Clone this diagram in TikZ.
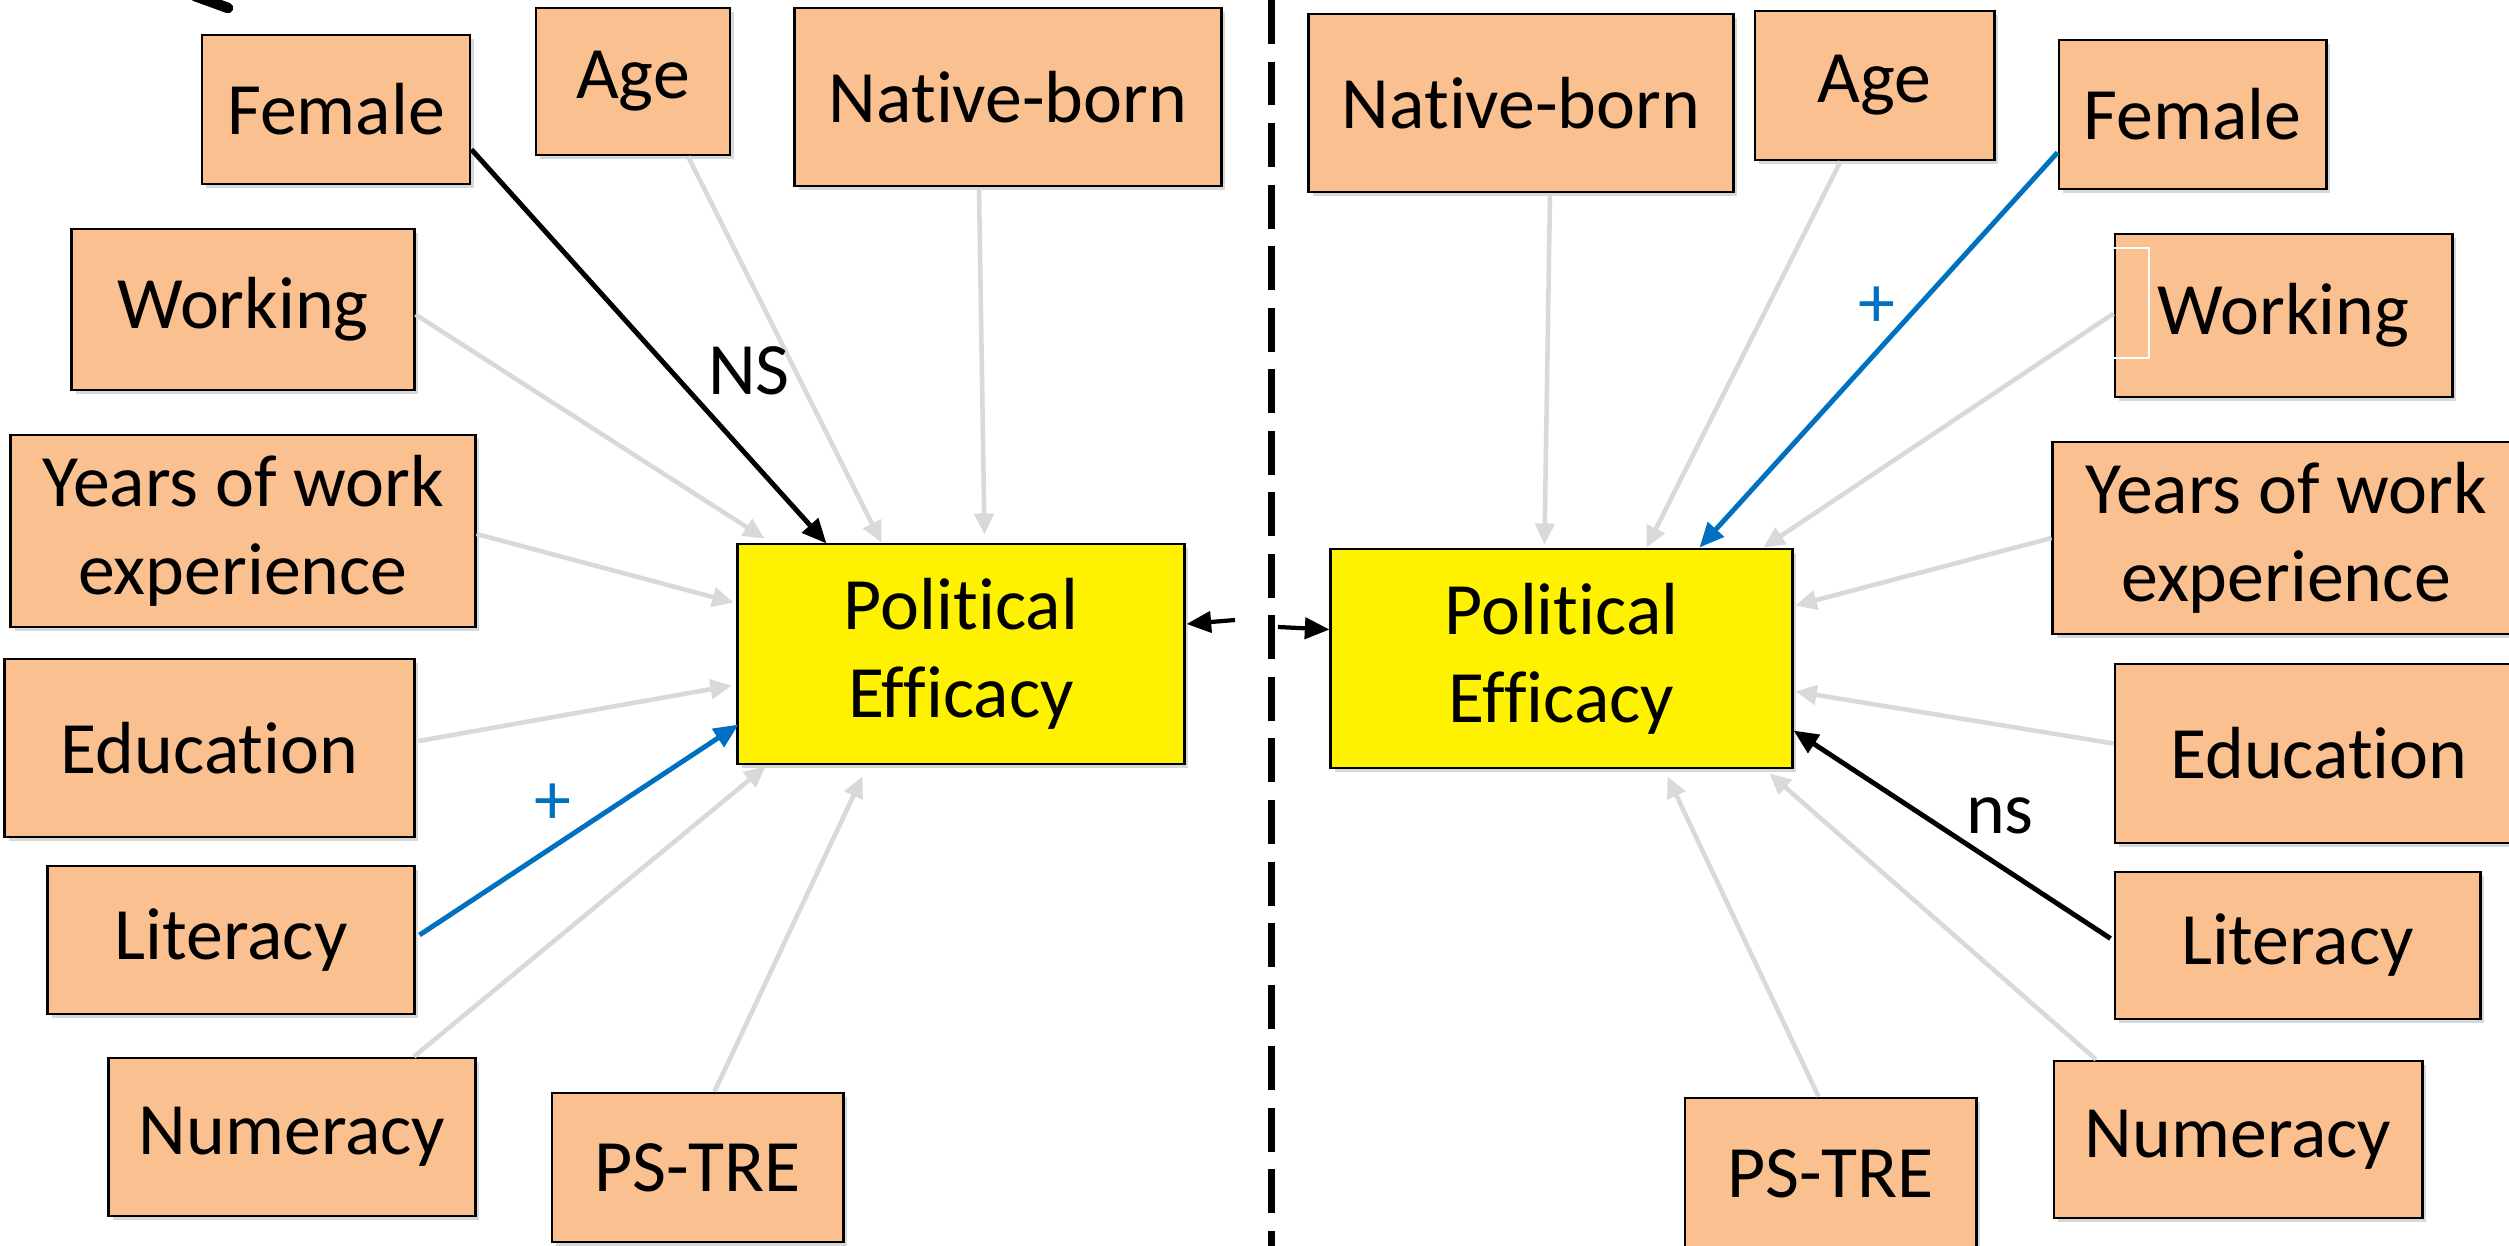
\documentclass[tikz,border=0pt]{standalone}
\usepackage{fontspec}
\setmainfont{Carlito}[Ligatures=NoCommon]
\usetikzlibrary{arrows.meta,calc,shadows}
\definecolor{boxorange}{HTML}{FAC090}
\definecolor{arrgray}{HTML}{D9D9D9}
\definecolor{posblue}{HTML}{0070C0}

\begin{document}
\begin{tikzpicture}[x=0.01cm,y=-0.01cm,
  varbox/.style={draw=black, line width=0.8pt, fill=boxorange, inner sep=0pt, align=center,
    font=\fontsize{21}{25}\selectfont,
    drop shadow={shadow xshift=1.2pt,shadow yshift=-1.2pt,opacity=0.3}},
  effbox/.style={varbox, fill=yellow},
  grayarr/.style={draw=arrgray, line width=1.3pt, -{Triangle[length=6pt,width=5.5pt]}},
  blackarr/.style={draw=black, line width=1.4pt, -{Triangle[length=7pt,width=6pt]}},
  bluearr/.style={draw=posblue, line width=1.4pt, -{Triangle[length=7pt,width=6pt]}},
  lbl/.style={font=\fontsize{21}{25}\selectfont}]
\useasboundingbox[fill=white] (0,0) rectangle (2509,1246);
%\draw[help lines] (0,0) grid[step=100] (2509,1246);
% LHS
\node[varbox, minimum width=2.68cm, minimum height=1.49cm] (femL) at (336,109.5) {Female};
\node[varbox, minimum width=1.94cm, minimum height=1.47cm] (ageL) at (633,81.5) {Age};
\node[varbox, minimum width=4.26cm, minimum height=1.78cm] (natL) at (1008,97) {Native-born};
\node[varbox, minimum width=3.42cm, minimum height=1.61cm] (wrkL) at (243,309.5) {Working};
\node[varbox, minimum width=4.64cm, minimum height=1.92cm] (yrsL) at (243,531) {Years of work\\experience};
\node[varbox, minimum width=4.09cm, minimum height=1.78cm] (eduL) at (209.5,748) {Education};
\node[varbox, minimum width=3.66cm, minimum height=1.48cm] (litL) at (231,940) {Literacy};
\node[varbox, minimum width=3.66cm, minimum height=1.58cm] (numL) at (292,1137) {Numeracy};
\node[varbox, minimum width=2.91cm, minimum height=1.49cm] (pstL) at (697.5,1167.5) {PS-TRE};
\node[effbox, minimum width=4.46cm, minimum height=2.20cm] (effL) at (961,654) {Political\\Efficacy};
% RHS
\node[varbox, minimum width=4.24cm, minimum height=1.78cm] (natR) at (1521,103) {Native-born};
\node[varbox, minimum width=2.39cm, minimum height=1.49cm] (ageR) at (1874.5,85.5) {Age};
\node[varbox, minimum width=2.67cm, minimum height=1.49cm] (femR) at (2192.5,114.5) {Female};
\node[varbox, minimum width=3.37cm, minimum height=1.63cm] (wrkR) at (2283.5,315.5) {Working};
\node[varbox, minimum width=4.66cm, minimum height=1.92cm] (yrsR) at (2286,538) {Years of work\\experience};
\node[varbox, minimum width=4.08cm, minimum height=1.79cm] (eduR) at (2319,753.5) {Education};
\node[varbox, minimum width=3.65cm, minimum height=1.47cm] (litR) at (2297.5,945.5) {Literacy};
\node[varbox, minimum width=3.68cm, minimum height=1.57cm] (numR) at (2238,1139.5) {Numeracy};
\node[varbox, minimum width=2.91cm, minimum height=1.52cm] (pstR) at (1830.5,1174) {PS-TRE};
\node[effbox, minimum width=4.61cm, minimum height=2.19cm] (effR) at (1561.5,658.5) {Political\\Efficacy};
% LHS arrows
\draw[blackarr] ($(femL.east)+(0,40)$) -- ($(effL.north west)+(90,1)$);
\draw[grayarr] ($(ageL.south)+(55,0)$) -- ($(effL.north west)+(145,0)$);
\draw[grayarr] ($(natL.south)+(-29,0)$) -- ($(effL.north west)+(248,-8)$);
\draw[grayarr] ($(wrkL.east)+(0,5)$) -- ($(effL.north west)+(28,-4)$);
\draw[grayarr] ($(yrsL.east)+(0,3)$) -- ($(effL.north west)+(-3,60)$);
\draw[grayarr] ($(eduL.east)+(3,-7)$) -- ($(effL.north west)+(-5,143)$);
\draw[bluearr] ($(litL.east)+(4,-5)$) -- ($(effL.north west)+(2,182)$);
\draw[grayarr] ($(numL.north)+(122,0)$) -- ($(effL.south west)+(29,1)$);
\draw[grayarr] ($(pstL.north)+(17,0)$) -- ($(effL.south west)+(126,11)$);
\node[lbl] (nsL) at (749,371) {NS};
\node[lbl, text=posblue] (plusL) at (553,804) {+};
% RHS arrows
\draw[grayarr] ($(natR.south)+(29,0)$) -- ($(effR.north west)+(215,-3)$);
\draw[grayarr] ($(ageR.south)+(-34,0)$) -- ($(effR.north west)+(317,0)$);
\draw[bluearr] ($(femR.west)+(0,38)$) -- ($(effR.north west)+(370,0)$);
\draw[grayarr] ($(wrkR.west)+(0,-2)$) -- ($(effR.north west)+(434,0)$);
\draw[grayarr] (yrsR.west) -- ($(effR.north east)+(2,58)$);
\draw[grayarr] ($(eduR.west)+(0,-10)$) -- ($(effR.north east)+(2,144)$);
\draw[blackarr] ($(litR.west)+(-3,-7)$) -- ($(effR.north east)+(0,183)$);
\draw[grayarr] ($(numR.north)+(-142,0)$) -- ($(effR.south east)+(-24,4)$);
\draw[grayarr] ($(pstR.north)+(-12,0)$) -- ($(effR.south west)+(338,7)$);
\node[lbl, text=posblue] (plusR) at (1877,307) {+};
\node[lbl] (nsR) at (2000,816) {ns};
% divider
\draw[black, line width=2pt, dash pattern=on 12.5pt off 5pt] (1271,0) -- (1271,1246);
\coordinate (midL) at (1235,620);
\coordinate (midR) at (1278,627);
\draw[blackarr, line width=1.2pt] (midL) -- ($(effL.east)+(1,-30)$);
\draw[blackarr, line width=1.2pt] (midR) -- ($(effR.west)+(0,-29)$);
% leftovers
\draw[black, line width=3pt, line cap=round] (195,-4) .. controls (212,2) .. (228,8);
\draw[white, line width=0.6pt] (2110,248) -- (2149,248) -- (2149,358) -- (2110,358);
\end{tikzpicture}
\end{document}
